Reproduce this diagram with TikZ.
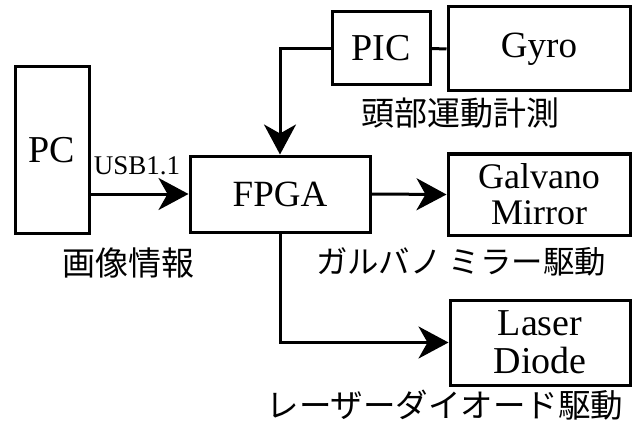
\documentclass[tikz,border=0pt]{standalone}
\usepackage{fontspec}
\setmainfont{Liberation Serif}
\newfontfamily\jp{Noto Sans CJK JP}
\usetikzlibrary{arrows.meta}
\begin{document}
\begin{tikzpicture}[x=1pt,y=-1pt,
  box/.style={draw,line width=3pt,inner sep=0pt,font=\fontsize{37}{37}\selectfont,align=center},
  arr/.style={line width=3pt,-{Stealth[length=30pt,width=32pt,inset=9pt]}},
  ln/.style={line width=3pt},
  jlab/.style={font=\jp\fontsize{33}{33}\selectfont,inner sep=0pt}]
\useasboundingbox (0,0) rectangle (637,425);
\node[box,minimum width=74pt,minimum height=166pt,font=\fontsize{38}{38}\selectfont] (pc) at (52,150) {PC};
\node[box,minimum width=180pt,minimum height=76pt] (fpga) at (280,194) {FPGA};
\node[box,minimum width=98pt,minimum height=73pt,font=\fontsize{38}{38}\selectfont] (pic) at (381,48.5) {PIC};
\node[box,minimum width=182pt,minimum height=84pt] (gyro) at (539,49) {Gyro};
\node[box,minimum width=182pt,minimum height=81pt,font=\fontsize{36}{36}\selectfont] (gm) at (539,194.5) {Galvano\\Mirror};
\node[box,minimum width=180pt,minimum height=85pt,font=\fontsize{38}{38}\selectfont] (ld) at (540,342.5) {Laser\\Diode};
\draw[arr] (pc.east |- fpga.west) -- (fpga.west);
\node[anchor=base,font=\fontsize{27}{27}\selectfont,inner sep=0pt] (usb) at (137,175) {USB1.1};
\draw[arr] (fpga.east) -- (gm.west);
\draw[arr] (pic.west) -| (fpga.north);
\draw[ln] (pic.east) -- (gyro.west);
\draw[arr] (fpga.south) |- (ld.west);
\node[jlab] (l1) at (460,113) {頭部運動計測};
\node[jlab,font=\jp\fontsize{31.4}{31.4}\selectfont] (l2) at (461,262) {ガルバノ ミラー駆動};
\node[jlab,font=\jp\fontsize{32.5}{32.5}\selectfont] (l3) at (445,405) {レーザーダイオード駆動};
\node[jlab] (l4) at (128,263) {画像情報};
\end{tikzpicture}
\end{document}
